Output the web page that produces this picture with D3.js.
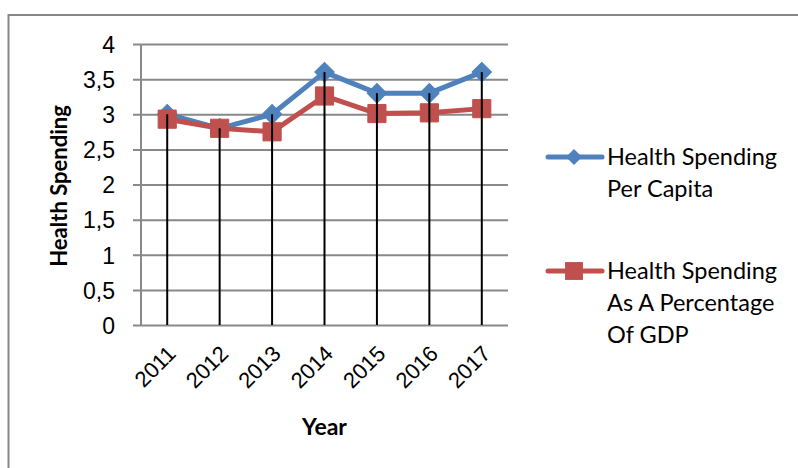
<!DOCTYPE html>
<html>
<head>
<meta charset="utf-8">
<script src="https://cdn.jsdelivr.net/npm/d3@7"></script>
<style>
  body { margin: 0; background: #fff; }
  svg { display: block; font-family: Lato, "Open Sans", sans-serif; }
</style>
</head>
<body>
<div id="chart"></div>
<script>
// Chart data
const years = ['2011', '2012', '2013', '2014', '2015', '2016', '2017'];
const perCapita = [3.0, 2.8, 3.0, 3.6, 3.3, 3.3, 3.6];
const pctOfGdp = [2.93, 2.8, 2.75, 3.26, 3.01, 3.02, 3.08];
const yTicks = [0, 0.5, 1, 1.5, 2, 2.5, 3, 3.5, 4];
const seriesNames = [
    ['Health Spending', 'Per Capita'],
    ['Health Spending', 'As A Percentage', 'Of GDP']
];

const W = 798, H = 468;
const plot = {left: 141, right: 508, top: 44, bottom: 325};

const svg = d3.select('#chart').append('svg')
    .attr('width', W)
    .attr('height', H);

// Outer chart border
svg.append('rect')
    .attr('x', 8.5).attr('y', 15)
    .attr('width', 800).attr('height', 470)
    .attr('fill', 'none')
    .attr('stroke', '#878787')
    .attr('stroke-width', 2);

const x = d3.scaleBand()
    .domain(years)
    .range([plot.left, plot.right])
    .padding(0);

const y = d3.scaleLinear()
    .domain([0, 4])
    .range([plot.bottom, plot.top]);

const cx = d => x(d) + x.bandwidth() / 2;

// Gridlines + y axis
const yAxis = svg.append('g')
    .attr('transform', `translate(${plot.left},0)`)
    .call(d3.axisLeft(y)
        .tickValues(yTicks)
        .tickSize(8)
        .tickPadding(18)
        .tickFormat(d => String(d).replace('.', ',')));

yAxis.select('.domain').remove();
yAxis.selectAll('.tick line')
    .attr('stroke', '#898989')
    .attr('stroke-width', 2)
    .attr('x1', plot.right - plot.left)
    .attr('x2', -8);
yAxis.selectAll('.tick text')
    .attr('fill', '#000')
    .attr('x', -26)
    .attr('text-anchor', 'end')
    .style('font-size', '23px')
    .attr('dy', '0.36em');

// y axis line
svg.append('line')
    .attr('x1', plot.left).attr('x2', plot.left)
    .attr('y1', plot.top).attr('y2', plot.bottom)
    .attr('stroke', '#898989')
    .attr('stroke-width', 2);

// x axis labels (rotated)
const xAxis = svg.append('g')
    .attr('transform', `translate(0,${plot.bottom})`)
    .call(d3.axisBottom(x).tickSize(0).tickPadding(0));
xAxis.select('.domain').remove();
xAxis.selectAll('.tick text')
    .style('font-size', '22px')
    .attr('fill', '#000')
    .attr('text-anchor', 'end')
    .attr('dy', 0)
    .attr('y', 0)
    .attr('transform', 'translate(10,30) rotate(-45)');

// Axis titles
svg.append('text')
    .attr('transform', 'translate(67,186) rotate(-90)')
    .attr('text-anchor', 'middle')
    .style('font-size', '22px')
    .style('font-weight', 'bold')
    .text('Health Spending');

svg.append('text')
    .attr('x', (plot.left + plot.right) / 2)
    .attr('y', 435)
    .attr('text-anchor', 'middle')
    .style('font-size', '23px')
    .style('font-weight', 'bold')
    .text('Year');

// Series (diamond = square rotated 45deg)
const series = [
    {values: perCapita, color: '#4F81BD', rot: 45, size: 190, legendSize: 130},
    {values: pctOfGdp, color: '#C0504D', rot: 0, size: 330, legendSize: 320}
];

const line = d3.line()
    .x((d, i) => cx(years[i]))
    .y(d => y(d));

series.forEach(s => {
    svg.append('path')
        .datum(s.values)
        .attr('d', line)
        .attr('fill', 'none')
        .attr('stroke', s.color)
        .attr('stroke-width', 5)
        .attr('stroke-linejoin', 'round');
});

series.forEach(s => {
    svg.selectAll(null)
        .data(s.values)
        .enter().append('path')
        .attr('d', d3.symbol().type(d3.symbolSquare).size(s.size))
        .attr('transform', (d, i) => `translate(${cx(years[i])},${y(d)}) rotate(${s.rot})`)
        .attr('fill', s.color)
        .attr('stroke', s.color)
        .attr('stroke-width', 1);
});

// Drop lines from highest point to axis
svg.selectAll('line.drop')
    .data(years)
    .enter().append('line')
    .attr('class', 'drop')
    .attr('x1', d => cx(d)).attr('x2', d => cx(d))
    .attr('y1', (d, i) => y(Math.max(perCapita[i], pctOfGdp[i])))
    .attr('y2', y(0))
    .attr('stroke', '#000')
    .attr('stroke-width', 2);

// Legend
const legendY = [157, 271];
series.forEach((s, k) => {
    const g = svg.append('g').attr('transform', `translate(548,${legendY[k]})`);
    g.append('line')
        .attr('x1', 0).attr('x2', 54)
        .attr('stroke', s.color)
        .attr('stroke-width', 5)
        .attr('stroke-linecap', 'round');
    g.append('path')
        .attr('d', d3.symbol().type(d3.symbolSquare).size(s.legendSize))
        .attr('transform', `translate(26,0) rotate(${s.rot})`)
        .attr('fill', s.color);
    g.append('text')
        .attr('x', 59)
        .attr('y', 8)
        .style('font-size', '23.5px')
        .selectAll('tspan')
        .data(seriesNames[k])
        .enter().append('tspan')
        .attr('x', 59)
        .attr('dy', (d, i) => i === 0 ? 0 : 32)
        .text(d => d);
});
</script>
</body>
</html>
